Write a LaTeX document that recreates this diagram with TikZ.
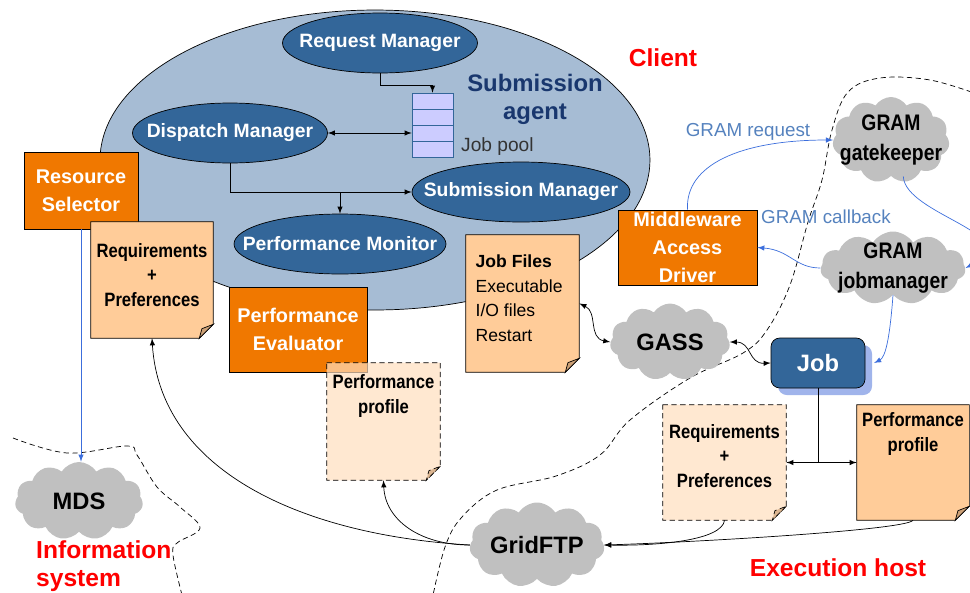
\documentclass[tikz,border=0pt]{standalone}
\usepackage{fontspec}
\setmainfont{Liberation Sans}
\newfontfamily\narrowsans[FakeStretch=0.86]{Liberation Sans}
\usetikzlibrary{positioning,shapes.geometric,shapes.symbols,shadows}

\definecolor{agentfill}{RGB}{166,188,212}
\definecolor{bluebox}{RGB}{51,102,153}
\definecolor{orangebox}{RGB}{240,120,0}
\definecolor{peach}{RGB}{255,204,153}
\definecolor{palepeach}{RGB}{255,222,190}
\definecolor{foldtan}{RGB}{204,160,118}
\definecolor{cloudgray}{RGB}{192,192,192}
\definecolor{linkblue}{RGB}{60,110,220}
\definecolor{labelblue}{RGB}{85,130,190}
\definecolor{agenttext}{RGB}{25,55,110}
\definecolor{poolfill}{RGB}{204,204,255}
\definecolor{jobshadow}{RGB}{160,180,235}

% paper sheet with a turned corner, drawn round an empty node
\newcommand{\pagefold}[2]{%
  \path[#2] (#1.north west) -- (#1.north east) -- ([yshift=8pt]#1.south east)
    -- ([xshift=-8pt]#1.south east) -- (#1.south west) -- cycle;
  \path[#2, fill=foldtan] ([yshift=8pt]#1.south east) -- ([xshift=-8pt]#1.south east)
    -- ([xshift=-6.5pt, yshift=5.5pt]#1.south east) -- cycle;
}

\tikzset{
  manager/.style={draw, ellipse, fill=bluebox, inner sep=0pt, minimum width=#1, minimum height=1.2cm},
  managertext/.style={text=white, font=\fontsize{11}{13}\selectfont\bfseries},
  unit/.style={draw, fill=orangebox, text=white, align=center, inner sep=0pt,
    font=\fontsize{11.3}{16}\selectfont\bfseries},
  sheet/.style={inner sep=0pt},
  sheetsolid/.style={draw, fill=peach},
  sheetdashed/.style={draw, dash pattern=on 3pt off 2pt, fill=palepeach, fill opacity=0.7},
  sheettext/.style={align=center, inner sep=0pt, font=\narrowsans\fontsize{11}{14}\selectfont\bfseries},
  cloudy/.style={cloud, cloud puffs=11, cloud puff arc=115, cloud ignores aspect, fill=cloudgray, inner sep=0pt},
  cloudtext/.style={align=center, font=\narrowsans\fontsize{12.8}{17}\selectfont\bfseries},
  cloudbig/.style={font=\fontsize{13.5}{16}\selectfont\bfseries},
  link/.style={-latex, linkblue},
  linklabel/.style={text=labelblue, font=\fontsize{10.7}{13}\selectfont},
  boundary/.style={dash pattern=on 3pt off 2pt},
  region/.style={text=red, align=left, font=\fontsize{14}{16}\selectfont\bfseries},
}

\begin{document}
\begin{tikzpicture}[x=0.02cm, y=-0.02cm]
  \useasboundingbox (0,0) rectangle (970,592);
  \clip (0,0) rectangle (970,592);

  % Region borders
  \draw[boundary] plot[smooth, tension=0.6] coordinates {(980,95) (930,80) (880,78) (848,92) (832,130)
    (822,180) (808,222) (790,285) (767,330) (743,353) (690,378) (630,420) (600,455) (556,476)
    (497,490) (462,517) (445,547) (432,600)};
  \draw[boundary] plot[smooth, tension=0.6] coordinates {(13,438) (67,453) (127,446) (137,455)
    (157,487) (180,507) (200,528) (177,543) (173,555) (182,595)};

  % Submission agent
  \node[draw, ellipse, fill=agentfill, minimum width=11cm, minimum height=6cm] (agent) at (375,160) {};
  \node[text=agenttext, align=center, font=\fontsize{13.6}{16}\selectfont\bfseries] (agentname) at (535,99) {Submission\\agent};
  \node[manager=3.9cm, label={[managertext]center:Request Manager}] (req) at (380,43) {};
  \node[manager=3.9cm, label={[managertext]center:Dispatch Manager}] (disp) at (230,133) {};
  \node[manager=4.36cm, label={[managertext]center:Submission Manager}] (sub) at (521,192) {};
  \node[manager=4.24cm, label={[managertext]center:Performance Monitor}] (mon) at (340,244) {};
  \node[draw=bluebox, fill=poolfill, minimum width=0.82cm, minimum height=1.28cm, inner sep=0pt] (pool) at (432.5,125) {};
  \foreach \yy in {109,125,141}
    \draw[bluebox] (412,\yy) -- (453,\yy);
  \node[anchor=west, font=\fontsize{10.9}{12}\selectfont, text=black!80] (poolname) at (455,147) {Job pool};

  \draw[-latex] (req.south) -- ++(0,12) -| (pool.north);
  \draw[latex-latex] (disp.east) -- (disp.east -| pool.west);
  \draw[-latex] (disp.south) |- (sub.west);
  \draw[-latex] (mon.north |- sub.west) -- (mon.north);

  % Client side
  \node[unit, minimum width=2.28cm, minimum height=1.54cm] (rsel) at (81,190.5) {Resource\\Selector};
  \node[sheet, minimum width=2.44cm, minimum height=2.32cm] (reqC) at (152,280) {};
  \pagefold{reqC}{sheetsolid}
  \node[sheettext, below=12pt of reqC.north] (reqCtext) {Requirements\\+\\Preferences};
  \node[unit, minimum width=2.76cm, minimum height=1.7cm] (peval) at (298,329.5) {Performance\\Evaluator};
  \node[sheet, minimum width=2.26cm, minimum height=2.34cm] (profC) at (383.5,421.5) {};
  \pagefold{profC}{sheetdashed}
  \node[sheettext, below=6.5pt of profC.north] (profCtext) {Performance\\profile};
  \node[sheet, minimum width=2.26cm, minimum height=2.74cm] (jobfiles) at (522.5,303.5) {};
  \pagefold{jobfiles}{sheetsolid}
  \node[align=left, inner sep=0pt, font=\fontsize{10}{14.2}\selectfont,
    below right=11pt and 5.5pt of jobfiles.north west] (jobfilestext) {\textbf{Job Files}\\Executable\\I/O files\\Restart};
  \node[unit, minimum width=2.78cm, minimum height=1.5cm] (mad) at (687.5,247.5) {Middleware\\Access\\Driver};

  % Services
  \node[cloudy, minimum width=2.34cm, minimum height=1.72cm, label={[cloudtext]center:GRAM\\gatekeeper}] (gate) at (891,140) {};
  \node[cloudy, minimum width=2.9cm, minimum height=1.46cm, label={[cloudtext]center:GRAM\\jobmanager}] (jobm) at (893,268) {};
  \node[cloudy, minimum width=2.4cm, minimum height=1.54cm, label={[cloudbig]center:GASS}] (gass) at (670,342) {};
  \node[cloudy, minimum width=2.7cm, minimum height=1.7cm, label={[cloudbig]center:GridFTP}] (ftp) at (537,545) {};
  \node[cloudy, minimum width=2.56cm, minimum height=1.56cm, label={[cloudbig]center:MDS}] (mds) at (79,501) {};

  % Execution host
  \node[draw, rounded corners=5pt, fill=bluebox, minimum width=1.88cm, minimum height=1cm, text=white,
    font=\fontsize{13.5}{16}\selectfont\bfseries,
    drop shadow={shadow xshift=4pt, shadow yshift=-4pt, fill=jobshadow, opacity=1}] (job) at (818,363) {Job};
  \node[sheet, minimum width=2.46cm, minimum height=2.3cm] (reqE) at (724.5,462.5) {};
  \pagefold{reqE}{sheetdashed}
  \node[sheettext, below=11pt of reqE.north] (reqEtext) {Requirements\\+\\Preferences};
  \node[sheet, minimum width=2.24cm, minimum height=2.3cm] (profE) at (913,462.5) {};
  \pagefold{profE}{sheetsolid}
  \node[sheettext, below=4.5pt of profE.north] (profEtext) {Performance\\profile};

  % Connectors
  \draw[link] (rsel.south) -- (rsel.south |- mds.north);
  \draw[-latex] (ftp.west) .. controls (300,535) and (160,470) .. (reqC.south);
  \draw[-latex] (ftp.west) .. controls (420,545) and (385,520) .. (profC.south);
  \draw[-latex] (reqE.south) .. controls (722,540) and (660,546) .. (ftp.east);
  \draw[-latex] (profE.south) .. controls (905,530) and (700,542) .. (ftp.east);
  \draw (job.south) -- (job.south |- reqE.east);
  \draw[latex-latex] (reqE.east) -- (profE.west);
  \draw[latex-latex] (jobfiles.east) .. controls (598,312) and (588,338) .. (gass.west);
  \draw[latex-latex] (gass.east) .. controls (752,342) and (748,364) .. (job.west);
  \draw[link] (mad.north) .. controls (685,165) and (740,140) .. (gate.west);
  \draw[link] (jobm.west) .. controls (795,268) and (790,250) .. (mad.east);
  \draw[link] ([xshift=7pt]gate.south) .. controls (905,215) and (1030,235) .. (jobm.east);
  \draw[link] (jobm.south) .. controls (890,335) and (886,357) .. ([xshift=5pt]job.east);

  % Labels
  \node[linklabel] (reqlabel) at (748,132) {GRAM request};
  \node[linklabel] (cblabel) at (826,217) {GRAM callback};
  \node[region] (client) at (663,58) {Client};
  \node[region, anchor=west] (infosys) at (30,566) {Information\\system};
  \node[region] (exechost) at (838,568) {Execution host};
\end{tikzpicture}
\end{document}
